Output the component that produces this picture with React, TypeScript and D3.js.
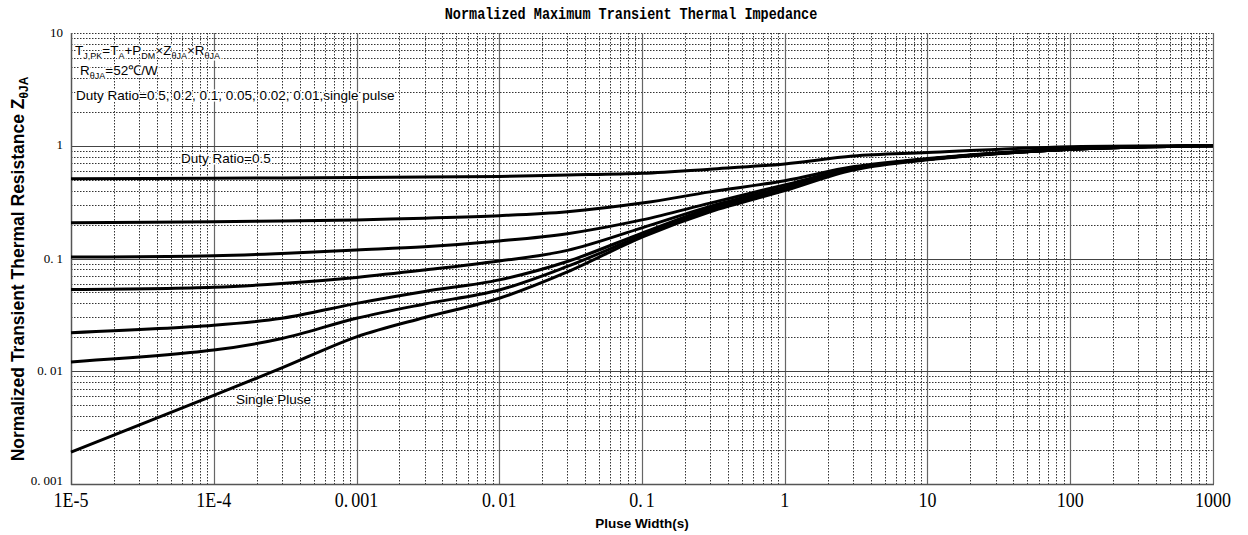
import React, { useRef, useEffect } from 'react';
import * as d3 from 'd3';

// pulse width (s) sample points
const pulseWidth = [1e-5, 1e-4, 3e-4, 1e-3, 3e-3, 1e-2, 3e-2, 1e-1, 3e-1, 1, 3, 10, 100, 1000];

// normalized Z(theta JA)
const duty05 = [0.51, 0.515, 0.518, 0.522, 0.527, 0.535, 0.55, 0.57, 0.62, 0.69, 0.81, 0.87, 0.98, 1.0];
const duty02 = [0.208, 0.212, 0.215, 0.22, 0.228, 0.24, 0.26, 0.31, 0.39, 0.49, 0.65, 0.77, 0.94, 1.0];
const duty01 = [0.103, 0.106, 0.111, 0.119, 0.127, 0.143, 0.166, 0.22, 0.31, 0.45, 0.63, 0.76, 0.93, 1.0];
const duty005 = [0.053, 0.0556, 0.06, 0.068, 0.079, 0.095, 0.118, 0.187, 0.29, 0.43, 0.63, 0.76, 0.93, 1.0];
const duty002 = [0.022, 0.0256, 0.0295, 0.04, 0.051, 0.0646, 0.094, 0.168, 0.28, 0.42, 0.62, 0.76, 0.93, 1.0];
const duty001 = [0.0121, 0.0154, 0.0195, 0.0295, 0.0395, 0.0526, 0.085, 0.16, 0.27, 0.41, 0.62, 0.76, 0.93, 1.0];
const singlePulse = [0.00192, 0.0061, 0.0107, 0.0202, 0.03, 0.0444, 0.076, 0.155, 0.26, 0.4, 0.61, 0.75, 0.93, 1.0];

const seriesList = [duty05, duty02, duty01, duty005, duty002, duty001, singlePulse];

const xTicks = [1e-5, 1e-4, 1e-3, 1e-2, 1e-1, 1, 10, 100, 1000];
const xTickLabels = ['1E-5', '1E-4', '0.001', '0.01', '0.1', '1', '10', '100', '1000'];
const yTicks = [0.001, 0.01, 0.1, 1, 10];
const yTickLabels = ['0.001', '0.01', '0.1', '1', '10'];

const App = () => {
  const ref = useRef<SVGSVGElement>(null);

  useEffect(() => {
    const svg = d3.select(ref.current);
    svg.selectAll('*').remove();

    const left = 71;
    const right = 1213;
    const top = 33;
    const bottom = 484;

    const x = d3.scaleLog().domain([1e-5, 1000]).range([left, right]);
    const y = d3.scaleLog().domain([0.001, 10]).range([bottom, top]);

    const grid = svg.append('g');

    // minor grid
    const minorX: number[] = [];
    for (let e = -5; e < 3; e++) for (let k = 2; k <= 9; k++) minorX.push(k * Math.pow(10, e));
    const minorY: number[] = [];
    for (let e = -3; e < 1; e++) for (let k = 2; k <= 9; k++) minorY.push(k * Math.pow(10, e));

    grid
      .selectAll('.mx')
      .data(minorX)
      .enter()
      .append('line')
      .attr('x1', (d) => Math.round(x(d)) + 0.5)
      .attr('x2', (d) => Math.round(x(d)) + 0.5)
      .attr('y1', top)
      .attr('y2', bottom)
      .attr('stroke', '#333')
      .attr('stroke-width', 1)
      .attr('stroke-dasharray', '1.5 1.5');

    grid
      .selectAll('.my')
      .data(minorY.concat([10]))
      .enter()
      .append('line')
      .attr('x1', left)
      .attr('x2', right)
      .attr('y1', (d) => Math.round(y(d)) + 0.5)
      .attr('y2', (d) => Math.round(y(d)) + 0.5)
      .attr('stroke', '#333')
      .attr('stroke-width', 1)
      .attr('stroke-dasharray', '1.5 1.5');

    // major grid
    grid
      .selectAll('.Mx')
      .data(xTicks.slice(1))
      .enter()
      .append('line')
      .attr('x1', (d) => Math.round(x(d)) + 0.5)
      .attr('x2', (d) => Math.round(x(d)) + 0.5)
      .attr('y1', top)
      .attr('y2', bottom)
      .attr('stroke', '#666')
      .attr('stroke-width', 1.2);

    grid
      .selectAll('.My')
      .data([0.01, 0.1, 1])
      .enter()
      .append('line')
      .attr('x1', left)
      .attr('x2', right)
      .attr('y1', (d) => Math.round(y(d)) + 0.5)
      .attr('y2', (d) => Math.round(y(d)) + 0.5)
      .attr('stroke', '#444')
      .attr('stroke-width', 1.2);

    // axes lines
    svg.append('line').attr('x1', left + 0.5).attr('x2', left + 0.5).attr('y1', top).attr('y2', bottom + 1)
      .attr('stroke', '#555').attr('stroke-width', 1.5);
    svg.append('line').attr('x1', left).attr('x2', right + 1).attr('y1', bottom + 0.5).attr('y2', bottom + 0.5)
      .attr('stroke', '#555').attr('stroke-width', 1.5);

    // curves
    const line = d3
      .line<number>()
      .x((d, i) => x(pulseWidth[i]))
      .y((d) => y(d))
      .curve(d3.curveCatmullRom.alpha(0.5));

    svg
      .append('g')
      .selectAll('path')
      .data(seriesList)
      .enter()
      .append('path')
      .attr('d', (d) => line(d))
      .attr('fill', 'none')
      .attr('stroke', '#000')
      .attr('stroke-width', 3);

    // tick labels
    const splitDot = (sel: any, s: string) => {
      const parts = s.split('.');
      if (parts.length === 2) {
        sel.append('tspan').text(parts[0] + '.');
        sel.append('tspan').attr('dx', 3).text(parts[1]);
      } else {
        sel.text(s);
      }
    };

    xTicks.forEach((t, i) => {
      const tx = svg
        .append('text')
        .attr('transform', `translate(${x(t)},507) scale(1,1.2)`)
        .attr('text-anchor', 'middle')
        .style('font-family', '"Liberation Serif", serif')
        .style('font-size', '18px')
        .attr('fill', '#000');
      splitDot(tx, xTickLabels[i]);
    });

    yTicks.forEach((t, i) => {
      const ty = svg
        .append('text')
        .attr('x', 63)
        .attr('y', y(t) - (i === 0 ? 4 : 1))
        .attr('text-anchor', 'end')
        .attr('dominant-baseline', 'central')
        .style('font-family', '"Liberation Serif", serif')
        .style('font-size', '13px')
        .attr('fill', '#000');
      splitDot(ty, yTickLabels[i]);
    });

    // title
    svg
      .append('text')
      .attr('transform', 'translate(631,19) scale(1,1.2)')
      .attr('text-anchor', 'middle')
      .style('font-family', '"Liberation Mono", monospace')
      .style('font-weight', 'bold')
      .style('font-size', '13.5px')
      .text('Normalized Maximum Transient Thermal Impedance');

    // axis titles
    svg
      .append('text')
      .attr('x', (left + right) / 2)
      .attr('y', 528)
      .attr('text-anchor', 'middle')
      .style('font-family', '"Liberation Sans", Arial, sans-serif')
      .style('font-weight', 'bold')
      .style('font-size', '13.5px')
      .text('Pluse Width(s)');

    const yt = svg
      .append('text')
      .attr('transform', 'translate(23.5,269) rotate(-90)')
      .attr('text-anchor', 'middle')
      .style('font-family', '"Liberation Sans", Arial, sans-serif')
      .style('font-weight', 'bold')
      .style('font-size', '17.5px');
    yt.append('tspan').text('Normalized Transient Thermal Resistance Z');
    yt.append('tspan').attr('dy', 4).style('font-size', '12px').text('θJA');

    // annotations
    const note = (xx: number, yy: number, parts: [string, boolean][]) => {
      const t = svg
        .append('text')
        .attr('x', xx)
        .attr('y', yy)
        .style('font-family', '"Liberation Sans", Arial, sans-serif')
        .style('font-size', '13.5px')
        .attr('fill', '#000')
        .attr('stroke', '#fff')
        .attr('stroke-width', 3)
        .attr('paint-order', 'stroke');
      let sub = false;
      parts.forEach(([s, isSub]) => {
        const sp = t.append('tspan').text(s);
        if (isSub) sp.style('font-size', '9px');
        if (isSub && !sub) sp.attr('dy', 3.5);
        else if (!isSub && sub) sp.attr('dy', -3.5);
        sub = isSub;
      });
    };

    note(75, 55, [
      ['T', false], ['J,PK', true], ['=T', false], ['A', true], ['+P', false], ['DM', true],
      ['×Z', false], ['θJA', true], ['×R', false], ['θJA', true],
    ]);
    note(80, 75, [['R', false], ['θJA', true], ['=52℃/W', false]]);
    note(76, 100, [['Duty Ratio=0.5, 0.2, 0.1, 0.05, 0.02, 0.01,single pulse', false]]);
    note(181, 163, [['Duty Ratio=0.5', false]]);
    note(236, 404, [['Single Pluse', false]]);
  }, []);

  return (
    <svg
      ref={ref}
      width={1248}
      height={535}
      style={{ position: 'absolute', left: 0, top: 0, background: '#fff' }}
    ></svg>
  );
};

export default App;
